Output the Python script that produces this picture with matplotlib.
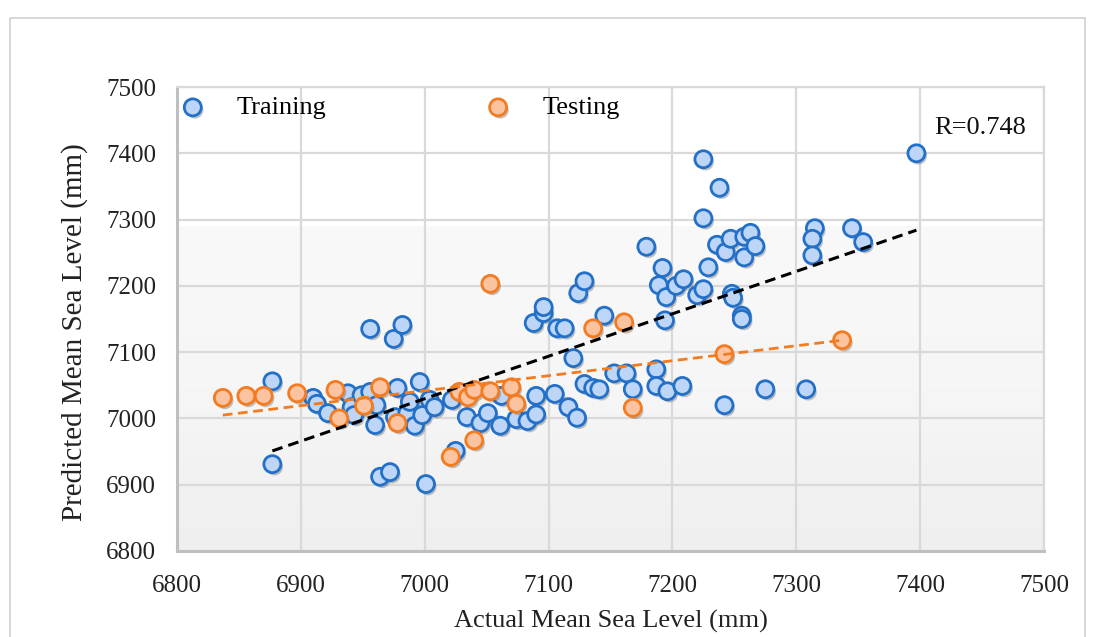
import numpy as np
import matplotlib
matplotlib.use("Agg")
import matplotlib.pyplot as plt
import matplotlib.patheffects as pe
from matplotlib.patches import Rectangle

# ---------------- data ----------------
train_actual = [6877, 6877, 6910, 6913, 6922, 6938, 6941, 6943, 6949, 6956,
                6956, 6960, 6961, 6964, 6972, 6975, 6976, 6978, 6982, 6986,
                6988, 6992, 6996, 6998, 7001, 7004, 7008, 7022, 7025, 7034,
                7045, 7051, 7061, 7062, 7074, 7083, 7088, 7090, 7090, 7096,
                7096, 7105, 7107, 7113, 7116, 7120, 7123, 7124, 7129, 7129,
                7136, 7141, 7145, 7153, 7163, 7168, 7179, 7187, 7187, 7189,
                7192, 7194, 7195, 7196, 7203, 7208, 7209, 7220, 7225, 7225,
                7225, 7229, 7236, 7238, 7242, 7243, 7247, 7248, 7249, 7256,
                7256, 7258, 7258, 7263, 7267, 7275, 7308, 7315, 7313, 7313,
                7345, 7354, 7397]
train_pred = [7056, 6931, 7031, 7022, 7008, 7038, 7017, 7005, 7035, 7040,
              7135, 6990, 7020, 6912, 6919, 7120, 7002, 7046, 7141, 7008,
              7025, 6989, 7055, 7005, 6901, 7028, 7017, 7028, 6951, 7002,
              6993, 7008, 6989, 7034, 6999, 6996, 7144, 7006, 7034, 7159,
              7168, 7037, 7136, 7136, 7017, 7091, 7001, 7189, 7207, 7052,
              7046, 7044, 7155, 7068, 7068, 7044, 7259, 7074, 7049, 7201,
              7227, 7148, 7183, 7041, 7200, 7049, 7210, 7186, 7195, 7391,
              7302, 7228, 7262, 7348, 7020, 7251, 7271, 7188, 7182, 7155,
              7150, 7274, 7243, 7280, 7260, 7044, 7044, 7287, 7271, 7246,
              7287, 7266, 7400]

test_actual = [6837, 6856, 6870, 6897, 6928, 6931, 6951, 6964, 6978, 7021,
               7028, 7035, 7040, 7040, 7053, 7053, 7070, 7074, 7136, 7161,
               7168, 7242, 7337]
test_pred = [7031, 7034, 7034, 7038, 7043, 7000, 7019, 7047, 6993, 6942,
             7040, 7032, 7043, 6967, 7041, 7203, 7047, 7022, 7136, 7145,
             7016, 7097, 7118]

# trend lines (endpoints)
train_trend_x = [6877, 7397]
train_trend_y = [6951, 7284]
test_trend_x = [6837, 7337]
test_trend_y = [7005, 7118]

x_ticks = [6800, 6900, 7000, 7100, 7200, 7300, 7400, 7500]
y_ticks = [6800, 6900, 7000, 7100, 7200, 7300, 7400, 7500]
r_label = "R=0.748"

# ---------------- figure ----------------
W, H = 1094, 637
fig = plt.figure(figsize=(W / 100, H / 100), dpi=100)
plt.rcParams['font.family'] = ['Liberation Serif', 'DejaVu Serif']

# outer frame
fig.patches.append(Rectangle((10 / W, -0.05), 1075 / W, 1.05 - 18 / H,
                             transform=fig.transFigure, fill=False,
                             edgecolor='#d0d0d0', linewidth=1.2))

ax = fig.add_axes([177 / W, 1 - 551 / H, (1044 - 177) / W, (551 - 87) / H])
ax.set_xlim(6800, 7500)
ax.set_ylim(6800, 7500)

# background gradient (white on top, light grey lower part)
grad = np.linspace(0, 1, 256).reshape(-1, 1)
cmap = matplotlib.colors.LinearSegmentedColormap.from_list(
    "bg", ["#f9f9f9", "#f6f6f6", "#efefef"])
ax.imshow(grad, extent=[6800, 7500, 6800, 7290], origin='upper',
          cmap=cmap, aspect='auto', zorder=0, interpolation='bilinear')

ax.set_xticks(x_ticks)
ax.set_yticks(y_ticks)
ax.grid(True, color='#d9d9d9', linewidth=1.6, zorder=1)
ax.set_axisbelow(True)
ax.tick_params(length=0, labelsize=18, colors='#222222')
ax.tick_params(axis='x', pad=17)
ax.tick_params(axis='y', pad=15)
for s in ['top', 'right']:
    ax.spines[s].set_color('#d9d9d9')
    ax.spines[s].set_linewidth(1.6)
for s in ['left', 'bottom']:
    ax.spines[s].set_color('#bfbfbf')
    ax.spines[s].set_linewidth(2.2)

shadow = [pe.SimplePatchShadow(offset=(1.5, -2), shadow_rgbFace='#555555',
                               alpha=0.35), pe.Normal()]

ax.scatter(train_actual, train_pred, s=150, facecolor='#bdd5f7',
           edgecolor='#2370c8', linewidth=2.0, zorder=3,
           path_effects=shadow, label='Training')
ax.scatter(test_actual, test_pred, s=150, facecolor='#fcc3a0',
           edgecolor='#f47b20', linewidth=2.0, zorder=4,
           path_effects=shadow, label='Testing')

ax.plot(train_trend_x, train_trend_y, color='black', linestyle=(0, (3.5, 2)),
        linewidth=2.2, zorder=5)
ax.plot(test_trend_x, test_trend_y, color='#f47b20', linestyle=(0, (3.5, 2)),
        linewidth=2.0, zorder=5)

ax.text(0.926, 0.912, r_label, transform=ax.transAxes, fontsize=19,
        ha='center', va='center', color='#111111')

leg = ax.legend(loc='upper left', bbox_to_anchor=(0.003, 0.981), ncol=2,
                frameon=False, fontsize=19, columnspacing=6.0,
                handlelength=1.0, handletextpad=1.17, markerscale=1.0,
                borderaxespad=0.0, borderpad=0.0)

ax.set_xlabel('Actual Mean Sea Level (mm)', fontsize=19, color='#222222')
ax.xaxis.set_label_coords(0.5, -0.128)
ax.set_ylabel('Predicted Mean Sea Level (mm)', fontsize=21, color='#222222')
ax.yaxis.set_label_coords(-0.103, 0.472)

fig.savefig('out.png', dpi=100)
